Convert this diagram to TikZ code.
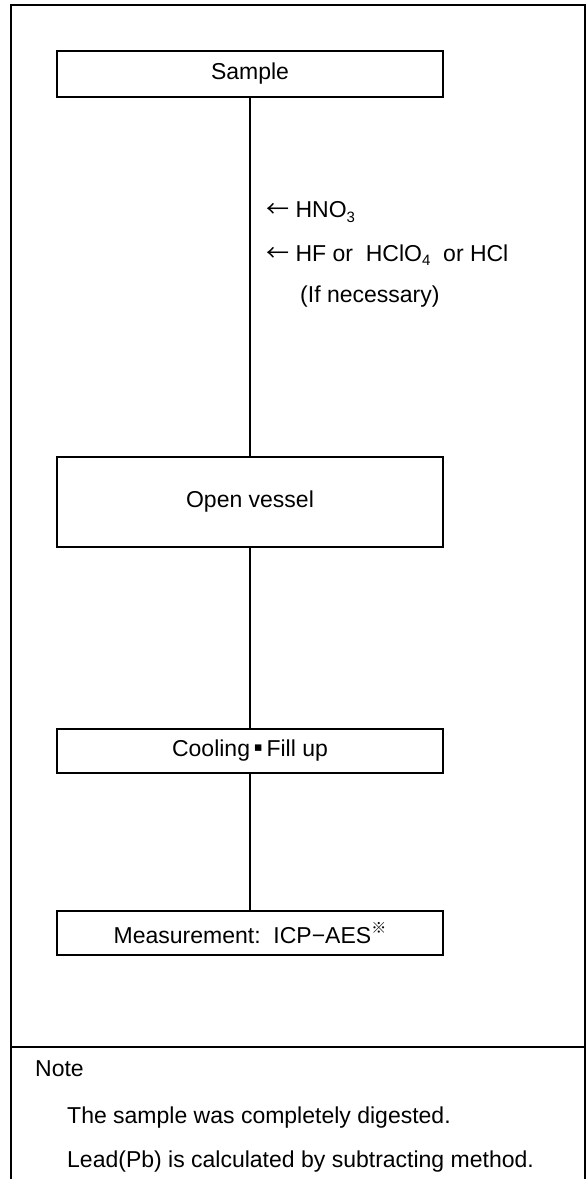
\documentclass[tikz,border=0pt]{standalone}
\usepackage{fontspec}
\setmainfont{Liberation Sans}
\newfontfamily\cjk{Noto Sans CJK JP}
\newfontfamily\dejavu{DejaVu Sans}
\newcommand{\subnum}[1]{\raisebox{-0.35ex}{\fontsize{15}{15}\selectfont #1}}
\begin{document}
\begin{tikzpicture}[x=1pt,y=-1pt,
  every node/.style={font=\fontsize{23}{27}\selectfont},
  stepbox/.style={draw,line width=2pt,minimum width=386pt,inner sep=0pt},
  conn/.style={line width=1.8pt},
  lbl/.style={anchor=west,inner sep=0pt}]
\useasboundingbox (0,0) rectangle (587,1179);
\fill[white] (0,0) rectangle (587,1179);
% outer frame
\draw[line width=2.4pt] (11,1185) -- (11,5) -- (585,5) -- (585,1185);
\draw[line width=2pt] (11,1047) -- (585,1047);
% boxes
\node[stepbox,minimum height=46pt] (sample) at (250,74) {Sample};
\node[stepbox,minimum height=90pt] (open) at (250,502) {Open vessel};
\node[stepbox,minimum height=44pt] (cool) at (250,751) {Cooling\,\raisebox{0.45ex}{\dejavu\fontsize{13}{13}\selectfont ▪}\,Fill up};
\node[stepbox,minimum height=44pt] (meas) at (250,933) {Measurement:\ \ ICP−AES\raisebox{0.75ex}{\fontsize{15}{15}\selectfont\cjk ※}};
% connectors
\draw[conn] (sample.south) -- (open.north);
\draw[conn] (open.south) -- (cool.north);
\draw[conn] (cool.south) -- (meas.north);
% reagent labels
\node[lbl] (r1) at (266,212) {{\cjk ←}\ HNO\subnum{3}};
\node[lbl] (r2) at (266,255) {{\cjk ←}\ HF or\ \ HClO\subnum{4}\ \ or HCl};
\node[lbl] (r3) at (300,297) {(If necessary)};
% note
\node[lbl] (note) at (35,1069) {Note};
\node[lbl] (n1) at (67,1118) {The sample was completely digested.};
\node[lbl] (n2) at (67,1162) {Lead(Pb) is calculated by subtracting method.};
\end{tikzpicture}
\end{document}
